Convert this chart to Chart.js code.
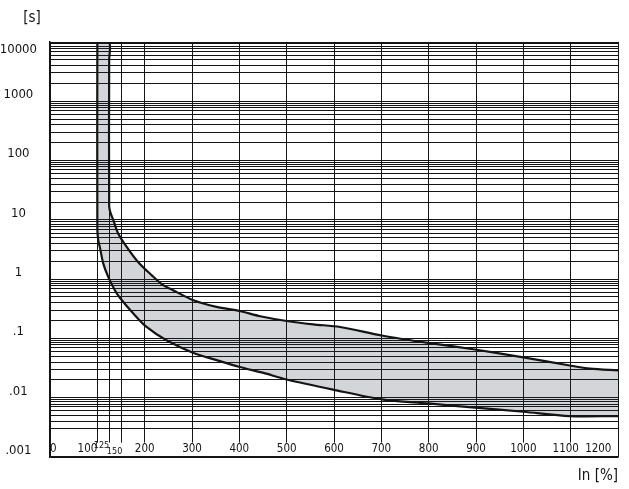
<!DOCTYPE html>
<html>
<head>
<meta charset="utf-8">
<title>Tripping characteristic</title>
<script src="https://cdn.jsdelivr.net/npm/chart.js@4.4.1/dist/chart.umd.min.js"></script>
<style>
  html, body { margin: 0; padding: 0; background: #fff; }
  #chart { display: block; }
</style>
</head>
<body>
<canvas id="chart" width="629" height="489"></canvas>
<script>
// Time / current band on a log time axis

const FONT = "'Liberation Sans Narrow', 'DejaVu Sans Condensed', 'Arial Narrow', sans-serif";
const INK = '#141414';

// x axis: In [%]
const xTickValues = [0, 100, 125, 150, 200, 300, 400, 500, 600, 700, 800, 900, 1000, 1100, 1200];
const xSmallTicks = [125, 150];

// y axis: [s]
const yTickValues = [0.001, 0.01, 0.1, 1, 10, 100, 1000, 10000];
const yTickLabels = ['.001', '.01', '.1', '1', '10', '100', '1000', '10000'];
// grid lines inside each decade, as drawn on the sheet
const yGridSteps = [1, 2, 3, 4, 5, 6, 7, 7.8, 8.5, 9.3];
const yGridSkip = [0.002];

// lower edge of the band
const lowerX = [100, 100, 102, 105.5, 112.6, 123, 137, 148, 176, 204, 246, 303, 352, 401, 451, 500, 598, 701, 799, 898, 1000, 1098, 1200];
const lowerY = [10000, 7, 4.5, 3.4, 1.83, 1.09, 0.65, 0.48, 0.263, 0.156, 0.093, 0.057, 0.043, 0.033, 0.0262, 0.0203, 0.0137, 0.0094, 0.008, 0.0068, 0.0058, 0.0049, 0.0049];

// upper edge of the band
const upperX = [100, 125, 125, 125, 128, 134, 144, 162, 186, 215, 239, 260, 303, 352, 401, 444, 500, 556, 613, 701, 799, 898, 1000, 1098, 1141, 1200];
const upperY = [10000, 10000, 5000, 17, 13, 9.8, 5.9, 3.5, 1.95, 1.16, 0.79, 0.65, 0.44, 0.34, 0.29, 0.237, 0.197, 0.173, 0.156, 0.112, 0.084, 0.065, 0.048, 0.035, 0.031, 0.029];

// label nudges in spaces (+ leading, - trailing)
const xLabelNudge = { 0: 2, 100: -6, 125: -6, 150: -5, 1100: -3, 1200: -12 };
const labelStripTop = 0.00175;

const sameValue = (a, b) => Math.abs(a / b - 1) < 1e-9;

const yGridValues = yTickValues.slice(0, -1)
    .flatMap(d => yGridSteps.map(s => s * d))
    .concat(yTickValues[yTickValues.length - 1])
    .filter(v => !yGridSkip.some(s => sameValue(v, s)));

function xLabel(v) {
    const n = xLabelNudge[v] || 0;
    const s = String(v);
    return n > 0 ? ' '.repeat(n) + s : s + ' '.repeat(-n);
}

function yLabel(v) {
    const idx = yTickValues.findIndex(t => sameValue(t, v));
    if (idx < 0) return '';
    // top label sits below its line, push it down one line
    return idx === yTickLabels.length - 1 ? ['', yTickLabels[idx]] : yTickLabels[idx];
}

const toPoints = (xs, ys) => xs.map((x, i) => ({ x: x, y: ys[i] }));

const bandDecor = {
    id: 'bandDecor',
    beforeDatasetsDraw(chart) {
        // keep the strip under the x labels free of grid lines
        const { ctx, chartArea: a, scales: { y } } = chart;
        const top = y.getPixelForValue(labelStripTop);
        ctx.save();
        ctx.fillStyle = '#fff';
        ctx.fillRect(a.left + 1, top, a.right - a.left - 2, a.bottom - top - 1);
        ctx.restore();
    },
    afterDraw(chart) {
        const { ctx } = chart;
        ctx.save();
        ctx.fillStyle = INK;
        ctx.font = '15px ' + FONT;
        ctx.textAlign = 'center';
        ctx.textBaseline = 'middle';
        ctx.fillText('[s]', 32, 18);
        ctx.restore();
    }
};

new Chart(document.getElementById('chart'), {
    type: 'line',
    data: {
        datasets: [{
            label: 'lower',
            data: toPoints(lowerX, lowerY),
            borderColor: INK,
            borderWidth: 2.2,
            pointRadius: 0,
            tension: 0.3,
            fill: false
        }, {
            label: 'upper',
            data: toPoints(upperX, upperY),
            borderColor: INK,
            borderWidth: 2.2,
            pointRadius: 0,
            tension: 0.3,
            fill: '-1',
            backgroundColor: 'rgba(40, 45, 60, 0.2)'
        }]
    },
    options: {
        responsive: false,
        animation: false,
        devicePixelRatio: 1,
        layout: { autoPadding: false, padding: { top: 42, right: 11, left: 0, bottom: 0 } },
        plugins: { legend: { display: false }, tooltip: { enabled: false } },
        scales: {
            x: {
                type: 'linear',
                min: 0,
                max: 1200,
                afterBuildTicks: s => { s.ticks = xTickValues.map(v => ({ value: v })); },
                afterFit: s => {
                    s.height = 32;
                    s.paddingLeft = 0;
                    s.paddingRight = 0;
                },
                grid: { color: INK, lineWidth: 1, drawTicks: false },
                border: { color: INK, width: 1.5 },
                ticks: {
                    z: 1,
                    mirror: true,
                    autoSkip: false,
                    maxRotation: 0,
                    minRotation: 0,
                    padding: 0.6,
                    color: INK,
                    callback: v => xLabel(v),
                    font: c => {
                        const v = c.tick ? c.tick.value : null;
                        if (xSmallTicks.includes(v)) {
                            return { family: FONT, size: 9, lineHeight: v === 125 ? '20.8px' : '9.8px' };
                        }
                        return { family: FONT, size: 11.5, lineHeight: 1.2 };
                    }
                },
                title: {
                    display: true,
                    text: 'In [%]',
                    align: 'end',
                    color: INK,
                    font: { family: FONT, size: 15, lineHeight: 1.2 },
                    padding: { top: 0, bottom: 4 }
                }
            },
            y: {
                type: 'logarithmic',
                min: 0.001,
                max: 10000,
                afterBuildTicks: s => { s.ticks = yGridValues.map(v => ({ value: v })); },
                afterFit: s => {
                    s.width = 50;
                    s.paddingTop = 0;
                    s.paddingBottom = 0;
                },
                grid: { color: INK, lineWidth: 1, drawTicks: false },
                border: { color: INK, width: 1.5 },
                ticks: {
                    autoSkip: false,
                    crossAlign: 'center',
                    padding: 13,
                    labelOffset: -6.5,
                    color: INK,
                    callback: v => yLabel(v),
                    font: c => ({
                        family: FONT,
                        size: 13,
                        lineHeight: (c.tick && sameValue(c.tick.value, 10000)) ? '28px' : 1.2
                    })
                }
            }
        }
    },
    plugins: [bandDecor]
});
</script>
</body>
</html>
